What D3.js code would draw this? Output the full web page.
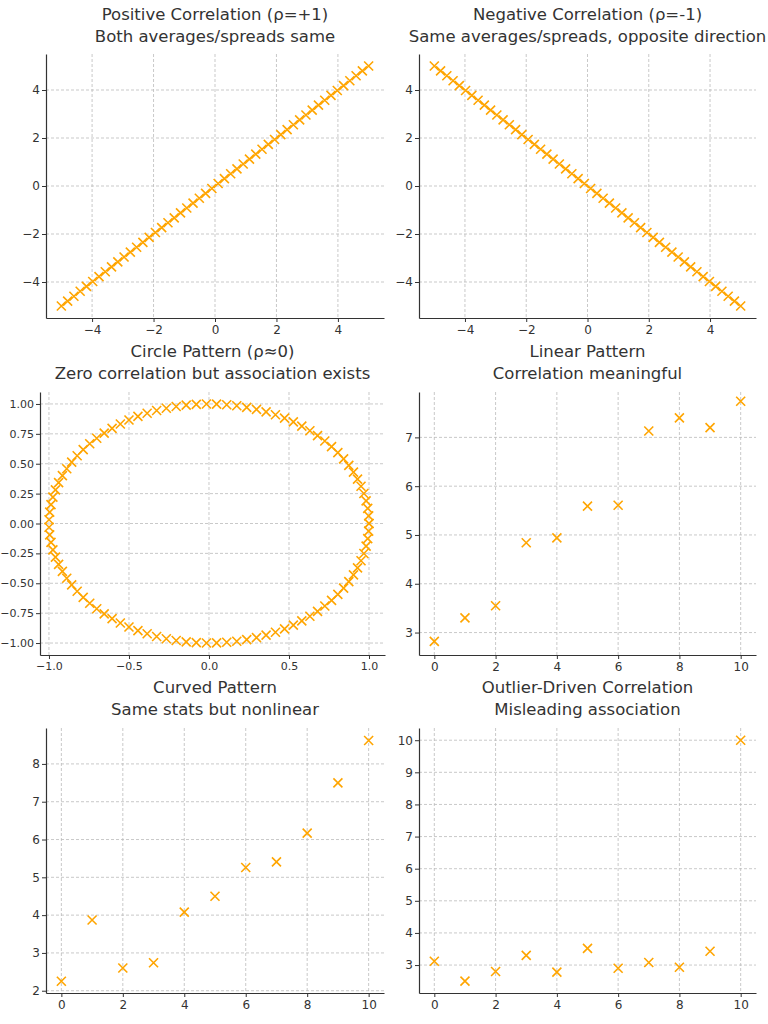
<!DOCTYPE html><html><head><meta charset="utf-8">
<script src="https://cdn.jsdelivr.net/npm/d3@7"></script>
<style>body{margin:0;background:#fff}text{font-family:"DejaVu Sans",sans-serif}</style></head><body>
<svg id="c" width="768" height="1024"></svg>
<script>
const lineX = d3.range(50).map(i => -5 + i * 10 / 49);
const posY = lineX.map(v => v);
const negY = lineX.map(v => -v);
const circT = d3.range(100).map(i => i * 2 * Math.PI / 99);
const circX = circT.map(t => Math.cos(t));
const circY = circT.map(t => Math.sin(t));
const idx = [0,1,2,3,4,5,6,7,8,9,10];
const linearY = [2.82,3.30,3.55,4.84,4.94,5.59,5.61,7.13,7.40,7.20,7.74];
const curvedY = [2.25,3.87,2.60,2.74,4.08,4.50,5.26,5.41,6.17,7.50,8.62];
const outlierY = [3.12,2.50,2.80,3.30,2.78,3.52,2.90,3.08,2.93,3.43,10.0];
const titles = [
 ["Positive Correlation (ρ=+1)","Both averages/spreads same"],
 ["Negative Correlation (ρ=-1)","Same averages/spreads, opposite direction"],
 ["Circle Pattern (ρ≈0)","Zero correlation but association exists"],
 ["Linear Pattern","Correlation meaningful"],
 ["Curved Pattern","Same stats but nonlinear"],
 ["Outlier-Driven Correlation","Misleading association"]];
const panels = [
 {x:lineX,y:posY,xd:[-5.5,5.5],yd:[-5.5,5.5],px:[46,384],py:[54,318],xt:[-4,-2,0,2,4],yt:[-4,-2,0,2,4],f:d3.format("d"),ty:20,fs:12},
 {x:lineX,y:negY,xd:[-5.5,5.5],yd:[-5.5,5.5],px:[419,756],py:[54,318],xt:[-4,-2,0,2,4],yt:[-4,-2,0,2,4],f:d3.format("d"),ty:20,fs:12},
 {x:circX,y:circY,xd:[-1.056,1.1],yd:[-1.1,1.1],px:[40,385],py:[392,655],xt:[-1,-0.5,0,0.5,1],yt:[-1,-0.75,-0.5,-0.25,0,0.25,0.5,0.75,1],f:d3.format(".1f"),fy:d3.format(".2f"),ty:357,fs:11},
 {x:idx,y:linearY,xd:[-0.5,10.5],yd:[2.54,7.93],px:[419,756],py:[392,655],xt:[0,2,4,6,8,10],yt:[3,4,5,6,7],f:d3.format("d"),ty:357,fs:12},
 {x:idx,y:curvedY,xd:[-0.5,10.5],yd:[1.94,8.95],px:[46,384],py:[728,993],xt:[0,2,4,6,8,10],yt:[2,3,4,5,6,7,8],f:d3.format("d"),ty:693,fs:12},
 {x:idx,y:outlierY,xd:[-0.5,10.5],yd:[2.13,10.38],px:[419,756],py:[728,993],xt:[0,2,4,6,8,10],yt:[3,4,5,6,7,8,9,10],f:d3.format("d"),ty:693,fs:12}];
const svg = d3.select("#c");
panels.forEach((p,i) => {
  const g = svg.append("g");
  const x = d3.scaleLinear().domain(p.xd).range(p.px);
  const y = d3.scaleLinear().domain(p.yd).range([p.py[1],p.py[0]]);
  const cx = (p.px[0]+p.px[1])/2;
  titles[i].forEach((t,k) => g.append("text").attr("x",cx).attr("y",p.ty+k*22).attr("text-anchor","middle").attr("font-size",16.5).attr("fill","#333").text(t));
  const grid = g.append("g").attr("stroke","#bbb").attr("stroke-dasharray","3,2").attr("stroke-width",0.8);
  p.xt.forEach(v => grid.append("line").attr("x1",x(v)).attr("x2",x(v)).attr("y1",p.py[0]).attr("y2",p.py[1]));
  p.yt.forEach(v => grid.append("line").attr("y1",y(v)).attr("y2",y(v)).attr("x1",p.px[0]).attr("x2",p.px[1]));
  const ax = g.append("g").attr("transform",`translate(0,${p.py[1]})`).call(d3.axisBottom(x).tickValues(p.xt).tickFormat(v => p.f(v).replace("-","−")).tickSize(4).tickSizeOuter(0));
  const ay = g.append("g").attr("transform",`translate(${p.px[0]},0)`).call(d3.axisLeft(y).tickValues(p.yt).tickFormat(v => (p.fy||p.f)(v).replace("-","−")).tickSize(4).tickSizeOuter(0));
  [ax,ay].forEach(a => {a.selectAll("text").attr("font-size",p.fs).attr("fill","#333").style("font-family","DejaVu Sans");a.select(".domain").attr("stroke","#333").attr("stroke-width",1.2);a.selectAll(".tick line").attr("stroke","#333");});
  ay.selectAll("text").attr("x",-6);
  const s = 4.5;
  g.append("g").selectAll("path").data(p.x.map((v,j)=>[v,p.y[j]])).join("path")
   .attr("d",d => {const X=x(d[0]),Y=y(d[1]);return `M${X-s},${Y-s}L${X+s},${Y+s}M${X-s},${Y+s}L${X+s},${Y-s}`;})
   .attr("stroke","#FFA500").attr("stroke-width",1.6).attr("fill","none");
});
</script></body></html>
